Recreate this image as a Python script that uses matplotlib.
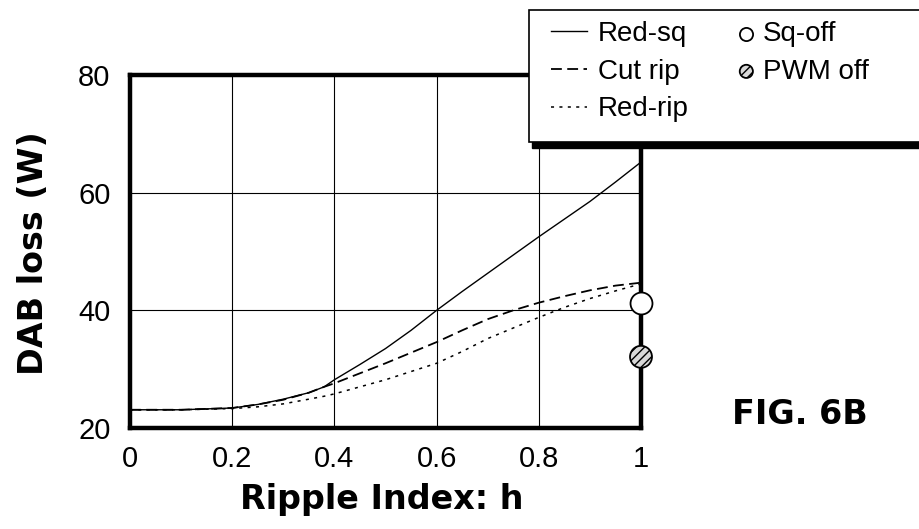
import matplotlib
matplotlib.use("Agg")
import matplotlib.pyplot as plt
from matplotlib.patches import Rectangle

plt.rcParams["font.family"] = ["Liberation Sans", "DejaVu Sans"]
plt.rcParams["hatch.linewidth"] = 1.0

# Ripple index samples
h = [0.0, 0.1, 0.2, 0.25, 0.3, 0.35, 0.38, 0.4, 0.45, 0.5, 0.55, 0.6,
     0.65, 0.7, 0.75, 0.8, 0.85, 0.9, 0.95, 1.0]

# DAB loss (W) for each modulation scheme
red_sq = [23.1, 23.1, 23.4, 24.0, 24.9, 26.0, 27.0, 28.2, 30.8, 33.5, 36.6, 40.0,
          43.2, 46.3, 49.4, 52.5, 55.5, 58.5, 61.8, 65.2]
cut_rip = [23.1, 23.1, 23.4, 24.0, 24.8, 26.0, 27.0, 27.6, 29.3, 31.0, 32.8, 34.6,
           36.6, 38.5, 40.0, 41.3, 42.4, 43.4, 44.2, 44.7]
red_rip = [23.1, 23.1, 23.3, 23.6, 24.1, 24.9, 25.4, 25.8, 27.0, 28.2, 29.6, 31.0,
           33.0, 35.2, 37.0, 38.8, 40.5, 42.0, 43.3, 44.5]

# Single operating points at h = 1
sq_off_h, sq_off_loss = [1.0], [41.2]
pwm_off_h, pwm_off_loss = [1.0], [32.1]

x_ticks = [0, 0.2, 0.4, 0.6, 0.8, 1]
x_tick_labels = ["0", "0.2", "0.4", "0.6", "0.8", "1"]
y_ticks = [20, 40, 60, 80]
y_tick_labels = ["20", "40", "60", "80"]

W, H = 919, 529
fig = plt.figure(figsize=(W / 100, H / 100), dpi=100)
fig.patch.set_facecolor("white")

ax_l, ax_r, ax_t, ax_b = 130, 641, 75, 428
ax = fig.add_axes([ax_l / W, (H - ax_b) / H, (ax_r - ax_l) / W, (ax_b - ax_t) / H])
ax.set_xlim(0, 1)
ax.set_ylim(20, 80)

ax.grid(True, color="black", linewidth=0.8, linestyle="-")
ax.set_axisbelow(True)

ln_sq, = ax.plot(h, red_sq, color="black", linewidth=1.0, linestyle="-", zorder=3)
ln_cut, = ax.plot(h, cut_rip, color="black", linewidth=1.3, linestyle=(0, (6, 3)), zorder=3)
ln_rip, = ax.plot(h, red_rip, color="black", linewidth=1.1, linestyle=(0, (2, 3.5)), zorder=3)

sc_sq = ax.scatter(sq_off_h, sq_off_loss, s=250, facecolor="white", edgecolor="black",
                   linewidth=1.3, zorder=5, clip_on=False)
sc_pwm = ax.scatter(pwm_off_h, pwm_off_loss, s=250, facecolor="#d8d8d8", edgecolor="black",
                    linewidth=1.3, hatch="////", zorder=5, clip_on=False)

for sp in ax.spines.values():
    sp.set_linewidth(3.2)
    sp.set_color("black")

ax.set_xticks(x_ticks)
ax.set_xticklabels(x_tick_labels)
ax.set_yticks(y_ticks)
ax.set_yticklabels(y_tick_labels)
ax.tick_params(axis="both", length=0, labelsize=21)
ax.tick_params(axis="x", pad=12)
ax.tick_params(axis="y", pad=14)

bold = dict(fontsize=24, fontweight="bold", family=["DejaVu Sans"])
ax.set_xlabel("Ripple Index: h", va="center", **bold)
ax.xaxis.set_label_coords((382 - ax_l) / (ax_r - ax_l), -(500 - ax_b) / (ax_b - ax_t))
ax.set_ylabel("DAB loss (W)", va="center", **bold)
ax.yaxis.set_label_coords(-(ax_l - 34) / (ax_r - ax_l), (ax_b - 253) / (ax_b - ax_t))

fig.text(800 / W, 1 - 415 / H, "FIG. 6B", ha="center", va="center", **bold)

# Legend frame with drop shadow, running off the right edge
fx0, fy_top, fy_bot = 529, 10, 142
shadow = Rectangle((fx0 + 3, H - fy_bot - 6), 420, fy_bot - fy_top,
                   transform=None, facecolor="black", edgecolor="black", zorder=8)
frame = Rectangle((fx0, H - fy_bot), 420, fy_bot - fy_top,
                  transform=None, facecolor="white", edgecolor="black",
                  linewidth=1.2, zorder=9)
fig.patches.extend([shadow, frame])

leg1 = fig.legend([ln_sq, ln_cut, ln_rip], ["Red-sq", "Cut rip", "Red-rip"],
                  loc="upper left", bbox_to_anchor=(551 / W, 1 - 21 / H),
                  frameon=False, fontsize=20, handlelength=1.3, handletextpad=0.4,
                  labelspacing=0.42, borderpad=0, borderaxespad=0)
leg1.set_zorder(10)
leg2 = fig.legend([sc_sq, sc_pwm], ["Sq-off", "PWM off"],
                  loc="upper left", bbox_to_anchor=(738 / W, 1 - 21 / H),
                  frameon=False, fontsize=20, handlelength=0.6, handletextpad=0.3,
                  labelspacing=0.42, borderpad=0, borderaxespad=0,
                  markerscale=0.6, scatterpoints=1)
leg2.set_zorder(10)

fig.savefig("out.png", dpi=100, facecolor="white")
